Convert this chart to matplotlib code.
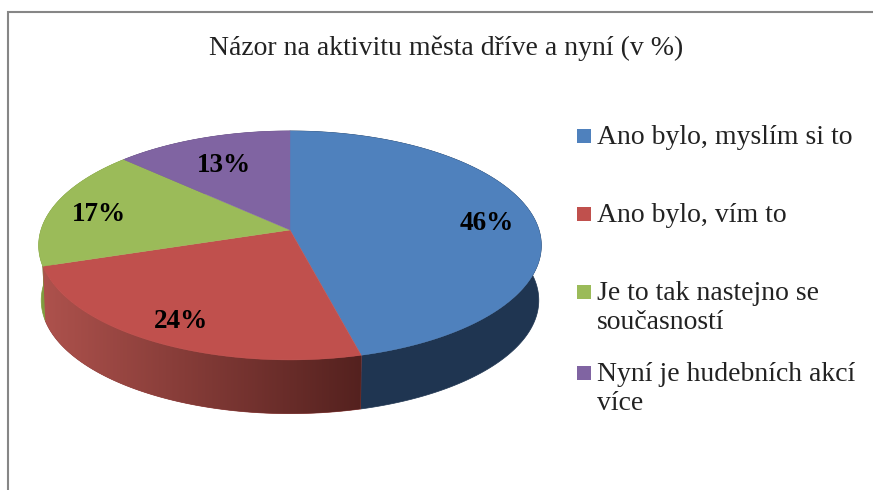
"""Tilted 3D-look pie, drawn in pixel coordinates of the figure."""

import matplotlib

matplotlib.use("Agg")
import matplotlib.pyplot as plt
import numpy as np
from matplotlib.patches import Polygon, Rectangle

plt.rcParams["font.family"] = ["Liberation Serif", "DejaVu Serif"]

TITLE = "Názor na aktivitu města dříve a nyní (v %)"
categories = [
    "Ano bylo, myslím si to",
    "Ano bylo, vím to",
    "Je to tak nastejno se\nsoučasností",
    "Nyní je hudebních akcí\nvíce",
]
values = [46, 24, 17, 13]
value_labels = ["46%", "24%", "17%", "13%"]

TOP_COLORS = ["#4f81bd", "#c0504d", "#9bbb59", "#8064a2"]
SIDE_COLORS = ["#1f3551", "#8c3a38", "#7f9c3e", "#5f4a79"]
BORDER = "#868686"

# layout, in pixels of the 873x490 picture
CX, CY = 290, 230
RX, RY = 249, 112.4
TILT = 0.135
DEPTH, SHRINK = 55, 0.99
LABEL_XY = [(487, 223), (181, 321), (99, 214), (224, 165)]
LEGEND_Y = [137, 215, 308, 389]


def project(frac, depth=False):
    """Fraction of the pie (clockwise from 12 o'clock) to a picture point."""
    a = 2 * np.pi * np.asarray(frac)
    u, v = np.sin(a), np.cos(a)
    x = RX * u / (1 + TILT * v)
    y = -RY * v / (1 + TILT * v)
    if depth:
        return CX + x * SHRINK, CY + DEPTH + y * SHRINK
    return CX + x, CY + y


def arc(start, stop, depth=False):
    n = max(int((stop - start) * 720), 2)
    return np.column_stack(project(np.linspace(start, stop, n), depth))


fig = plt.figure(figsize=(8.73, 4.9), dpi=100)
ax = fig.add_axes([0, 0, 1, 1])
ax.set_xlim(0, 873)
ax.set_ylim(490, 0)
ax.axis("off")

ax.plot([8, 8, 873], [490, 12, 12], color=BORDER, lw=1.5, solid_joinstyle="miter")

edges = np.cumsum([0] + values) / sum(values)

# side walls first, the top faces then cover what should not show
for i, (start, stop) in enumerate(zip(edges[:-1], edges[1:])):
    pts = np.vstack([arc(start, stop), arc(start, stop, True)[::-1]])
    wall = Polygon(pts, closed=True, fc=SIDE_COLORS[i], ec=SIDE_COLORS[i], lw=0.5)
    ax.add_patch(wall)
    if i == 1:
        x0, x1 = pts[:, 0].min(), pts[:, 0].max()
        shade = np.linspace(0, 1, 128).reshape(1, -1, 1)
        light = np.array([0.68, 0.32, 0.30]).reshape(1, 1, 3)
        dark = np.array([0.33, 0.13, 0.12]).reshape(1, 1, 3)
        grad = ax.imshow(light + (dark - light) * shade, extent=(x0, x1, 430, 230),
                         aspect="auto", zorder=wall.get_zorder() + 0.1)
        grad.set_clip_path(wall)
        ax.set_xlim(0, 873)
        ax.set_ylim(490, 0)

for i, (start, stop) in enumerate(zip(edges[:-1], edges[1:])):
    pts = np.vstack([[CX, CY], arc(start, stop)])
    ax.add_patch(Polygon(pts, closed=True, fc=TOP_COLORS[i], ec=TOP_COLORS[i],
                         lw=0.3, zorder=3))

for (x, y), label in zip(LABEL_XY, value_labels):
    ax.text(x, y, label, ha="center", va="center", fontsize=19.5,
            fontweight="bold", color="black", zorder=4)

ax.text(446, 48, TITLE, ha="center", va="center", fontsize=20, color="#222222")

for y, name, color in zip(LEGEND_Y, categories, TOP_COLORS):
    first_line = y - 15 if "\n" in name else y
    ax.add_patch(Rectangle((577, first_line - 8), 14, 14, fc=color, ec="none"))
    ax.text(597, y, name, ha="left", va="center", fontsize=20,
            color="#222222", linespacing=1.2)

fig.savefig("out.png", dpi=100)
